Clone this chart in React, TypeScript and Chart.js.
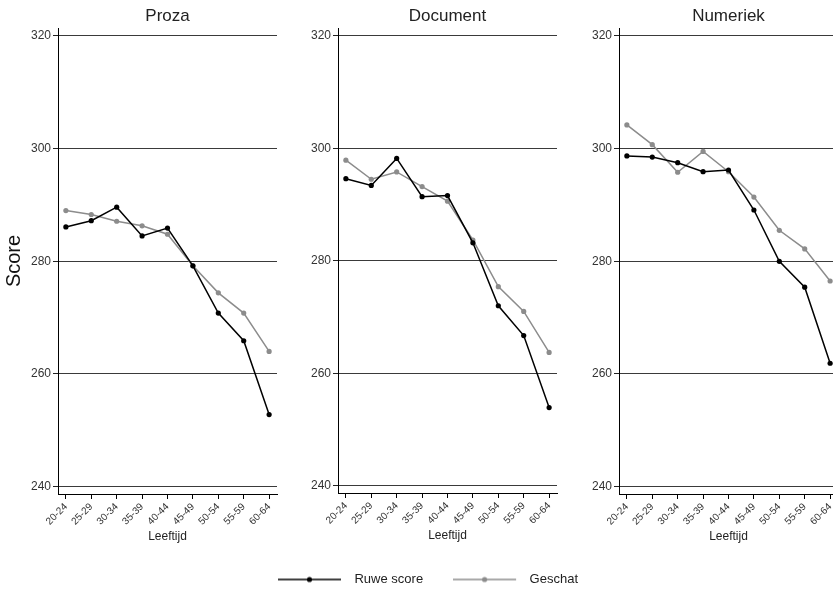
import React, { useEffect, useRef } from 'react';
import { Chart, registerables } from 'chart.js';

Chart.register(...registerables);

const FONT = "'Liberation Sans', Arial, Helvetica, sans-serif";
Chart.defaults.font.family = FONT;

const categories = ['20-24', '25-29', '30-34', '35-39', '40-44', '45-49', '50-54', '55-59', '60-64'];

const prozaRuwe = [286.1, 287.2, 289.6, 284.5, 285.9, 279.2, 270.8, 265.9, 252.8];
const prozaGeschat = [289.0, 288.3, 287.1, 286.3, 284.8, 279.2, 274.4, 270.8, 264.0];
const documentRuwe = [294.6, 293.4, 298.2, 291.4, 291.6, 283.2, 272.0, 266.7, 253.9];
const documentGeschat = [297.9, 294.5, 295.8, 293.2, 290.6, 283.7, 275.4, 271.0, 263.7];
const numeriekRuwe = [298.7, 298.5, 297.5, 295.9, 296.2, 289.1, 280.0, 275.4, 261.9];
const numeriekGeschat = [304.2, 300.7, 295.8, 299.5, 295.9, 291.4, 285.5, 282.2, 276.5];

const panelTitles = ['Proza', 'Document', 'Numeriek'];
const seriesLabels = ['Ruwe score', 'Geschat'];
const seriesColors = ['#000000', '#8c8c8c'];

const Y_MIN = 238.7;
const Y_MAX = 321.4;
const CANVAS_H = 596;
const LEGEND_PAD = 30;
const LEGEND_H = 22 + LEGEND_PAD;

function legendImage(color: string): HTMLCanvasElement {
  const c = document.createElement('canvas');
  c.width = 70;
  c.height = 10;
  const ctx = c.getContext('2d')!;
  ctx.strokeStyle = color;
  ctx.lineWidth = 1.5;
  ctx.beginPath();
  ctx.moveTo(0, 5);
  ctx.lineTo(63, 5);
  ctx.stroke();
  ctx.fillStyle = color;
  ctx.beginPath();
  ctx.arc(31.5, 5, 2.6, 0, Math.PI * 2);
  ctx.fill();
  return c;
}

type PanelProps = {
  title: string;
  ruwe: number[];
  geschat: number[];
  left: number;
  width: number;
  yAxisWidth: number;
  rightPad: number;
  showScore: boolean;
  showLegend: boolean;
};

function Panel({ title, ruwe, geschat, left, width, yAxisWidth, rightPad, showScore, showLegend }: PanelProps) {
  const ref = useRef<HTMLCanvasElement | null>(null);
  useEffect(() => {
    if (!ref.current) return;
    const series = [ruwe, geschat];
    const chart = new Chart(ref.current, {
      type: 'line',
      data: {
        datasets: series.map((arr, s) => ({
          label: seriesLabels[s],
          xAxisID: 'x',
          yAxisID: 'y',
          data: arr.map((v, i) => ({ x: i, y: v })),
          borderColor: seriesColors[s],
          backgroundColor: seriesColors[s],
          pointBackgroundColor: seriesColors[s],
          pointBorderWidth: 0,
          pointRadius: 2.6,
          borderWidth: 1.5,
          tension: 0,
          fill: false,
        })),
      },
      options: {
        animation: false,
        responsive: false,
        devicePixelRatio: 1,
        layout: { padding: { bottom: showLegend ? 0 : LEGEND_H } },
        plugins: {
          tooltip: { enabled: false },
          title: { display: false },
          legend: {
            display: showLegend,
            position: 'bottom',
            labels: {
              usePointStyle: true,
              pointStyleWidth: 70,
              padding: LEGEND_PAD,
              color: '#222',
              font: { size: 13, family: FONT },
              generateLabels: (ch: any) => {
                const items = Chart.defaults.plugins.legend.labels.generateLabels(ch);
                return items.map((it: any, i: number) => ({ ...it, pointStyle: legendImage(seriesColors[i]) }));
              },
            },
          },
        },
        scales: {
          x: {
            type: 'linear',
            position: 'bottom',
            min: -0.31,
            max: 8.31,
            afterFit: (s: any) => { s.height = 50; },
            ticks: {
              stepSize: 1,
              includeBounds: false,
              autoSkip: false,
              minRotation: 45,
              maxRotation: 45,
              callback: (v: any) => categories[Math.round(Number(v))] ?? '',
              font: { size: 10, family: FONT },
              color: '#333',
              padding: 2,
            },
            grid: { drawOnChartArea: false, drawTicks: true, tickLength: 5, color: '#000', tickColor: '#000' },
            border: { color: '#000', width: 1 },
            title: { display: true, text: 'Leeftijd', font: { size: 12, family: FONT }, color: '#222', padding: { top: 0, bottom: 0 } },
          },
          y: {
            type: 'linear',
            position: 'left',
            min: Y_MIN,
            max: Y_MAX,
            afterFit: (s: any) => { s.width = yAxisWidth; },
            ticks: { stepSize: 20, includeBounds: false, font: { size: 12, family: FONT }, color: '#333', padding: 2 },
            grid: { color: '#3a3a3a', lineWidth: 1, tickLength: 5, tickColor: '#222' },
            border: { color: '#000', width: 1 },
            title: showScore
              ? { display: true, text: 'Score', font: { size: 20, family: FONT }, color: '#111', padding: { top: 2.5, bottom: 0 } }
              : { display: false },
          },
          top: {
            type: 'linear',
            position: 'top',
            min: 0,
            max: 1,
            afterFit: (s: any) => { s.height = 28; },
            ticks: { display: false },
            grid: { display: false },
            border: { display: false },
            title: { display: true, text: title, font: { size: 17, family: FONT }, color: '#222', padding: { top: 6, bottom: 0 } },
          },
          spacer: {
            type: 'linear',
            position: 'right',
            display: rightPad > 0,
            min: 0,
            max: 1,
            afterFit: (s: any) => { s.width = rightPad; },
            ticks: { display: false },
            grid: { display: false },
            border: { display: false },
            title: { display: false },
          },
        },
      } as any,
    });
    return () => chart.destroy();
  }, [title, ruwe, geschat, yAxisWidth, rightPad, showScore, showLegend]);

  return (
    <canvas
      ref={ref}
      width={width}
      height={CANVAS_H}
      style={{ position: 'absolute', left, top: 0, width, height: CANVAS_H }}
    />
  );
}

export default function App() {
  return (
    <div style={{ position: 'fixed', left: 0, top: 0, width: 833, height: 592, overflow: 'hidden', background: '#fff' }}>
      <Panel title={panelTitles[0]} ruwe={prozaRuwe} geschat={prozaGeschat} left={0} width={281} yAxisWidth={58} rightPad={0} showScore={true} showLegend={false} />
      <Panel title={panelTitles[2]} ruwe={numeriekRuwe} geschat={numeriekGeschat} left={579} width={263} yAxisWidth={40} rightPad={0} showScore={false} showLegend={false} />
      <Panel title={panelTitles[1]} ruwe={documentRuwe} geschat={documentGeschat} left={228} width={400} yAxisWidth={110} rightPad={71} showScore={false} showLegend={true} />
    </div>
  );
}
